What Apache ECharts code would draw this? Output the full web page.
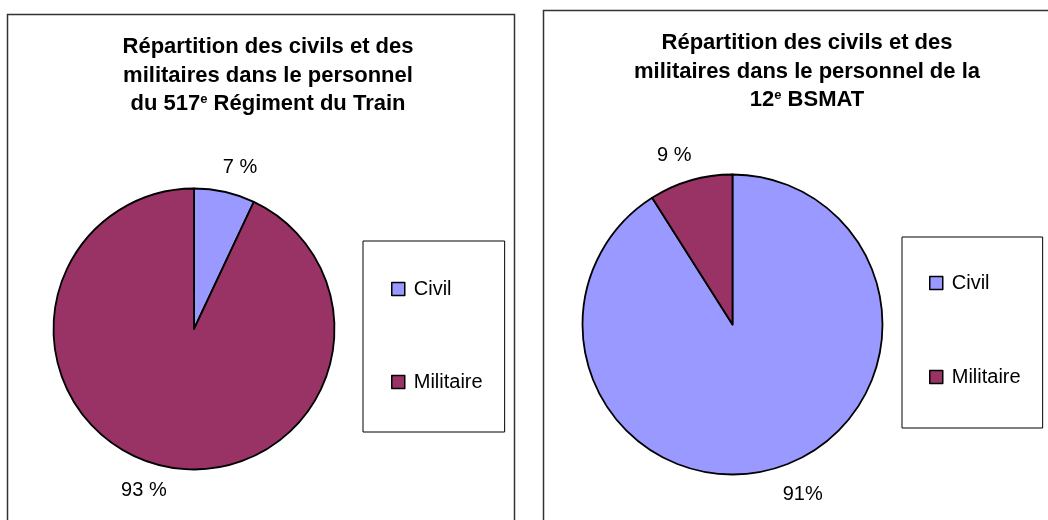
<!DOCTYPE html>
<html>
<head>
<meta charset="utf-8">
<script src="https://cdn.jsdelivr.net/npm/echarts@6/dist/echarts.min.js"></script>
<style>
html, body { margin: 0; padding: 0; background: #fff; }
#main { width: 1048px; height: 520px; }
</style>
</head>
<body>
<div id="main"></div>
<script>
// données
var categories = ['Civil', 'Militaire'];
var regimentValues = [7, 93];
var regimentLabels = ['7 %', '93 %'];
var bsmatValues = [91, 9];
var bsmatLabels = ['91%', '9 %'];
var regimentTitle = 'Répartition des civils et des\nmilitaires dans le personnel\ndu 517{sup|e} Régiment du Train';
var bsmatTitle = 'Répartition des civils et des\nmilitaires dans le personnel de la\n12{sup|e} BSMAT';

var FONT = 'Liberation Sans, Arial, sans-serif';

/**
 * titre en gras, centré
 */
var buildTitle = function(text, left, top){
	return {
		text: text,
		left: left,
		top: top,
		textAlign: 'center',
		textStyle: {
			fontFamily: FONT,
			fontSize: 22,
			fontWeight: 'bold',
			color: '#000',
			lineHeight: 28.5,
			rich: {
				sup: { fontFamily: FONT, fontSize: 13, fontWeight: 'bold', color: '#000', verticalAlign: 'top', lineHeight: 22, padding: [3, 0, 0, 0] }
			}
		}
	};
};

/**
 * légende encadrée à droite du camembert
 */
var buildLegend = function(left, top, padding, gap){
	return {
		data: categories,
		orient: 'vertical',
		left: left,
		top: top,
		padding: padding,
		itemGap: gap,
		itemWidth: 13,
		itemHeight: 13,
		icon: 'rect',
		borderColor: '#000',
		borderWidth: 1,
		selectedMode: false,
		itemStyle: { borderColor: '#000', borderWidth: 1.5 },
		textStyle: { fontFamily: FONT, fontSize: 20, color: '#000', padding: [0, 0, 0, 4] }
	};
};

var buildPie = function(name, values, labels, center, radius, len, len2){
	var data = [];
	for(var i = 0, j = categories.length; i < j; i++){
		data.push({
			name: categories[i],
			value: values[i],
			label: { formatter: labels[i] },
			labelLine: { length2: len2[i] }
		});
	}
	return {
		type: 'pie',
		name: name,
		center: center,
		radius: radius,
		startAngle: 90,
		clockwise: true,
		avoidLabelOverlap: false,
		silent: true,
		animation: false,
		itemStyle: { borderColor: '#000', borderWidth: 1.8 },
		label: { show: true, position: 'outside', fontFamily: FONT, fontSize: 20, color: '#000' },
		labelLine: { show: false, length: len },
		labelLayout: { align: 'center' },
		emphasis: { disabled: true },
		data: data
	};
};

var myChart = echarts.init(document.getElementById('main'));
myChart.setOption({
	animation: false,
	backgroundColor: '#fff',
	color: ['#9999FF', '#993366'],
	title: [
		buildTitle(regimentTitle, 263, 28),
		buildTitle(bsmatTitle, 802, 24)
	],
	legend: [
		buildLegend(363, 241, [38, 22, 40, 28], 73),
		buildLegend(902, 237, [36, 22, 41, 27], 74)
	],
	graphic: [
		{ type: 'rect', silent: true, shape: { x: 7.5, y: 14.5, width: 507, height: 530 }, style: { fill: 'none', stroke: '#333', lineWidth: 1.5 } },
		{ type: 'rect', silent: true, shape: { x: 543.5, y: 10.5, width: 530, height: 530 }, style: { fill: 'none', stroke: '#333', lineWidth: 1.5 } }
	],
	series: [
		buildPie('517e Régiment du Train', regimentValues, regimentLabels, [194, 329], 140.5, 25, [5, 9]),
		buildPie('12e BSMAT', bsmatValues, bsmatLabels, [732.5, 324.5], 150, 26.5, [16, 4])
	]
});
</script>
</body>
</html>
